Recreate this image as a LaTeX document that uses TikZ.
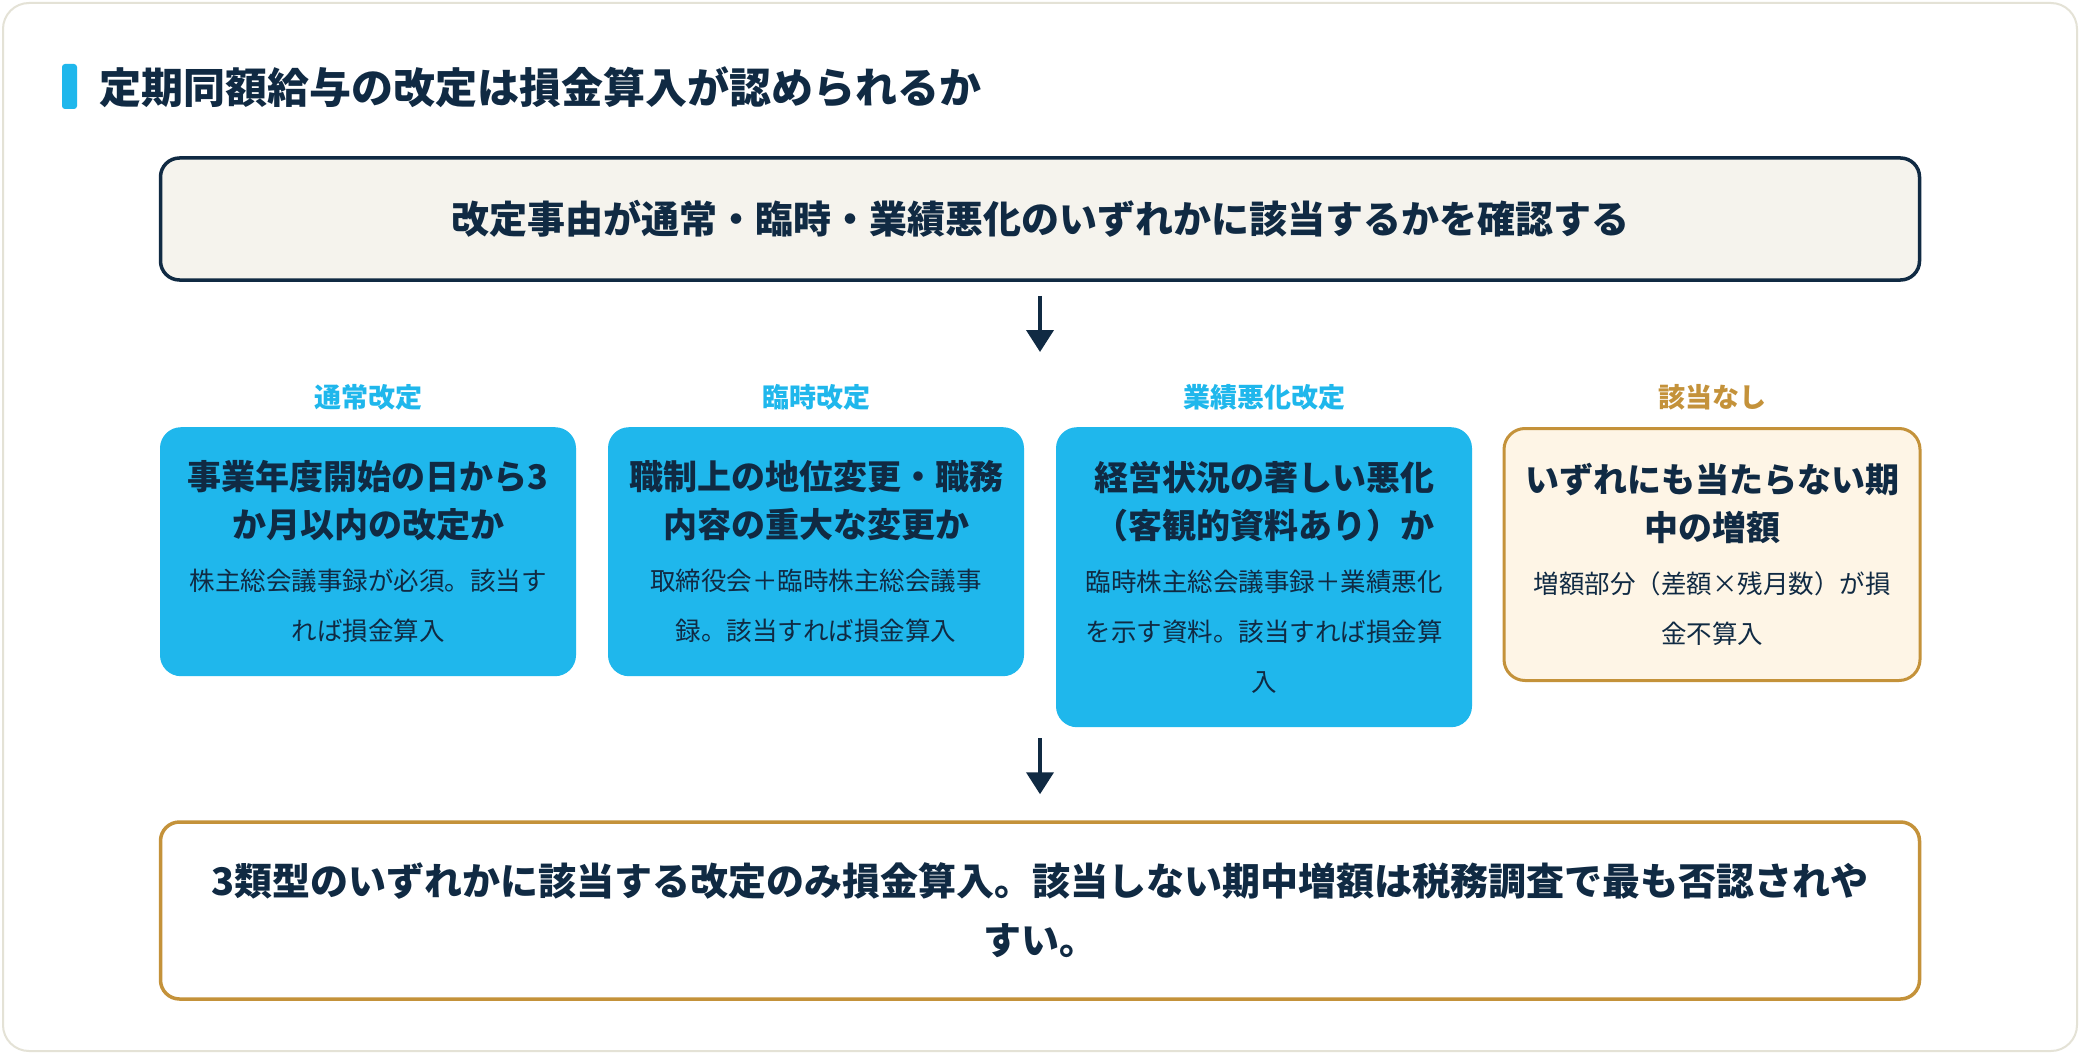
\documentclass[tikz,border=0pt]{standalone}
\usepackage{fontspec}
\setmainfont{Noto Sans CJK JP}
\usepackage{xcolor}
\usepackage{tikz}
\definecolor{inknavy}{RGB}{16,42,67}
\definecolor{skycyan}{RGB}{31,183,236}
\definecolor{ochre}{RGB}{196,146,58}
\definecolor{paper}{RGB}{245,243,237}
\definecolor{cream}{RGB}{254,245,230}
\definecolor{cardline}{RGB}{228,226,214}
\usetikzlibrary{positioning,arrows.meta}
\newcommand{\typetext}[2]{{\fontsize{34}{48}\selectfont\bfseries #1\par}\vspace{3pt}{\fontsize{25.5}{50}\selectfont #2\par}}

\begin{document}
\begin{tikzpicture}[x=1pt, y=-1pt, every node/.style={text=inknavy, inner sep=0pt},
  checkbox/.style={draw=inknavy, line width=3.5pt, fill=paper, rounded corners=19pt,
    minimum width=1759pt, minimum height=122pt, font=\fontsize{38}{46}\selectfont\bfseries},
  typebox/.style={fill=skycyan, rounded corners=21pt, minimum width=416pt,
    text width=392pt, align=center},
  nonebox/.style={typebox, fill=cream, draw=ochre, line width=3pt},
  colhead/.style={font=\fontsize{27}{32}\selectfont\bfseries, text=skycyan},
  verdictbox/.style={draw=ochre, line width=3.5pt, fill=white, rounded corners=19pt,
    minimum width=1759pt, minimum height=177pt, align=center,
    font=\fontsize{38}{59}\selectfont\bfseries},
  flowarrow/.style={draw=inknavy, line width=4pt, -{Triangle[length=22pt, width=27pt]}}]
\useasboundingbox (0,0) rectangle (2080,1054);
% Card
\fill[white] (0,0) rectangle (2080,1054);
\draw[cardline, line width=2pt, rounded corners=26pt] (3,3) rectangle (2077,1051);
% Heading
\fill[skycyan, rounded corners=3pt] (62,64) rectangle (77,109);
\node[anchor=west, font=\fontsize{42}{50}\selectfont\bfseries] (title) at (99,87)
  {定期同額給与の改定は損金算入が認められるか};
% Check
\node[checkbox] (check) at (1040,219) {改定事由が通常・臨時・業績悪化のいずれかに該当するかを確認する};
\coordinate (a1end) at (1040,352);
\draw[flowarrow, shorten <=14pt] (check.south) -- (a1end);
% Revision types
\node[typebox, minimum height=249pt, anchor=north] (usual) at (368,427)
  {\typetext{事業年度開始の日から3\\か月以内の改定か}{株主総会議事録が必須。該当す\\れば損金算入}};
\node[typebox, minimum height=249pt, anchor=north] (special) at (816,427)
  {\typetext{職制上の地位変更・職務\\内容の重大な変更か}{取締役会＋臨時株主総会議事\\録。該当すれば損金算入}};
\node[typebox, minimum height=300pt, anchor=north] (decline) at (1264,427)
  {\typetext{経営状況の著しい悪化\\（客観的資料あり）か}{臨時株主総会議事録＋業績悪化\\を示す資料。該当すれば損金算\\入}};
\node[nonebox, minimum height=252pt, anchor=north] (none) at (1712,427)
  {\typetext{いずれにも当たらない期\\中の増額}{増額部分（差額×残月数）が損\\金不算入}};
% Column heads
\node[colhead] (usualhead) at ([yshift=30pt]usual.north) {通常改定};
\node[colhead] (specialhead) at ([yshift=30pt]special.north) {臨時改定};
\node[colhead] (declinehead) at ([yshift=30pt]decline.north) {業績悪化改定};
\node[colhead, text=ochre] (nonehead) at ([yshift=30pt]none.north) {該当なし};
% Verdict
\node[verdictbox] (verdict) at (1040,910.5)
  {3類型のいずれかに該当する改定のみ損金算入。該当しない期中増額は税務調査で最も否認されや\\すい。};
\coordinate (a2top) at (1040,738);
\draw[flowarrow, shorten >=26pt] (a2top) -- (verdict.north);
\end{tikzpicture}
\end{document}
